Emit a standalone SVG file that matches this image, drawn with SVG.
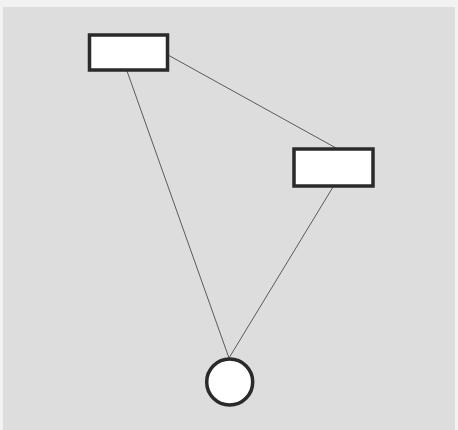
<svg xmlns="http://www.w3.org/2000/svg" width="458" height="430" viewBox="0 0 458 430">
<style>
.node{fill:#ffffff;stroke:#2a2a2a;stroke-width:3.5}
.edge{stroke:#5a5a5a;stroke-width:1;fill:none}
</style>
<rect x="0" y="0" width="458" height="430" fill="#f2f2f2"/>
<rect x="3" y="7" width="452" height="423" fill="#dddddd"/>
<g id="connectors">
<line class="edge" x1="127" y1="71" x2="229" y2="358"/>
<line class="edge" x1="168" y1="55" x2="336" y2="148"/>
<line class="edge" x1="333" y1="187" x2="229" y2="358"/>
</g>
<g id="nodeA"><rect class="node" x="89.5" y="35" width="78" height="35"/></g>
<g id="nodeB"><rect class="node" x="294" y="149" width="79" height="37"/></g>
<g id="nodeC"><circle class="node" cx="229.7" cy="382" r="23"/></g>
</svg>
